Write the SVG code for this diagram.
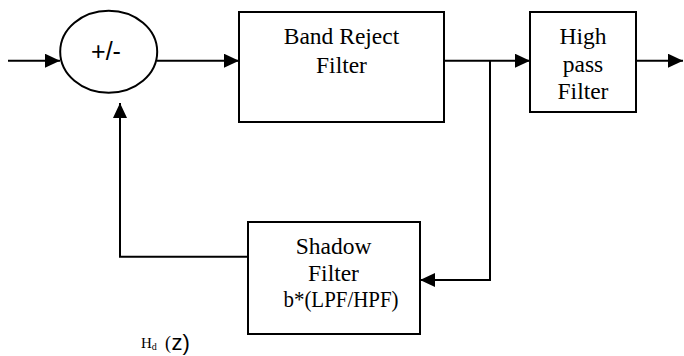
<svg xmlns="http://www.w3.org/2000/svg" width="684" height="356" viewBox="0 0 684 356">
  <style>
    .blk { fill: #fff; stroke: #000; stroke-width: 2; }
    .wire { fill: none; stroke: #000; stroke-width: 2; }
    .serif { font-family: "Liberation Serif", "Times New Roman", serif; font-size: 23.5px; fill: #000; text-anchor: middle; }
    .sans { font-family: "Liberation Sans", Arial, sans-serif; fill: #000; }
  </style>
  <defs>
    <marker id="arrow" viewBox="0 0 15 14" refX="15" refY="7" markerWidth="15" markerHeight="14" markerUnits="userSpaceOnUse" orient="auto">
      <path d="M0,0 L15,7 L0,14 Z" fill="#000"/>
    </marker>
  </defs>

  <rect width="684" height="356" fill="#fff"/>

  <!-- connectors -->
  <g id="connectors">
    <line class="wire" x1="8" y1="60.7" x2="60" y2="60.7" marker-end="url(#arrow)"/>
    <line class="wire" x1="157" y1="60.7" x2="239" y2="60.7" marker-end="url(#arrow)"/>
    <line class="wire" x1="444" y1="60.7" x2="530" y2="60.7" marker-end="url(#arrow)"/>
    <line class="wire" x1="636" y1="60.7" x2="683" y2="60.7" marker-end="url(#arrow)"/>
    <polyline class="wire" points="490,60.7 490,280 420,280" marker-end="url(#arrow)"/>
    <polyline class="wire" points="248,256.7 120,256.7 120,103" marker-end="url(#arrow)"/>
  </g>

  <!-- summing junction -->
  <g id="sum">
    <ellipse class="blk" cx="108.7" cy="51.8" rx="48.5" ry="41"/>
    <text class="sans" x="106" y="60" font-size="25" text-anchor="middle">+/-</text>
  </g>

  <!-- band reject filter -->
  <g id="band-reject">
    <rect class="blk" x="239" y="12" width="205" height="110"/>
    <text class="serif" x="341.5" y="44">Band Reject</text>
    <text class="serif" x="341.5" y="73">Filter</text>
  </g>

  <!-- high pass filter -->
  <g id="high-pass">
    <rect class="blk" x="530" y="12" width="106" height="100"/>
    <text class="serif" x="583" y="44">High</text>
    <text class="serif" x="583" y="72">pass</text>
    <text class="serif" x="583" y="99">Filter</text>
  </g>

  <!-- shadow filter in feedback path -->
  <g id="shadow">
    <rect class="blk" x="248" y="222" width="172" height="112"/>
    <text class="serif" x="333.5" y="254">Shadow</text>
    <text class="serif" x="333.5" y="281">Filter</text>
    <text class="serif" x="341" y="307" textLength="115" lengthAdjust="spacingAndGlyphs">b*(LPF/HPF)</text>
  </g>

  <!-- transfer function label -->
  <g id="label-hd">
    <text x="141" y="348" font-family="Liberation Serif, serif" font-size="15px" fill="#000">H<tspan font-size="10px" dy="2">d</tspan></text>
    <text x="165" y="349" font-family="Liberation Serif, serif" font-size="18px" fill="#000">(</text>
    <text class="sans" x="171.5" y="349.5" font-size="22px">z)</text>
  </g>
</svg>
